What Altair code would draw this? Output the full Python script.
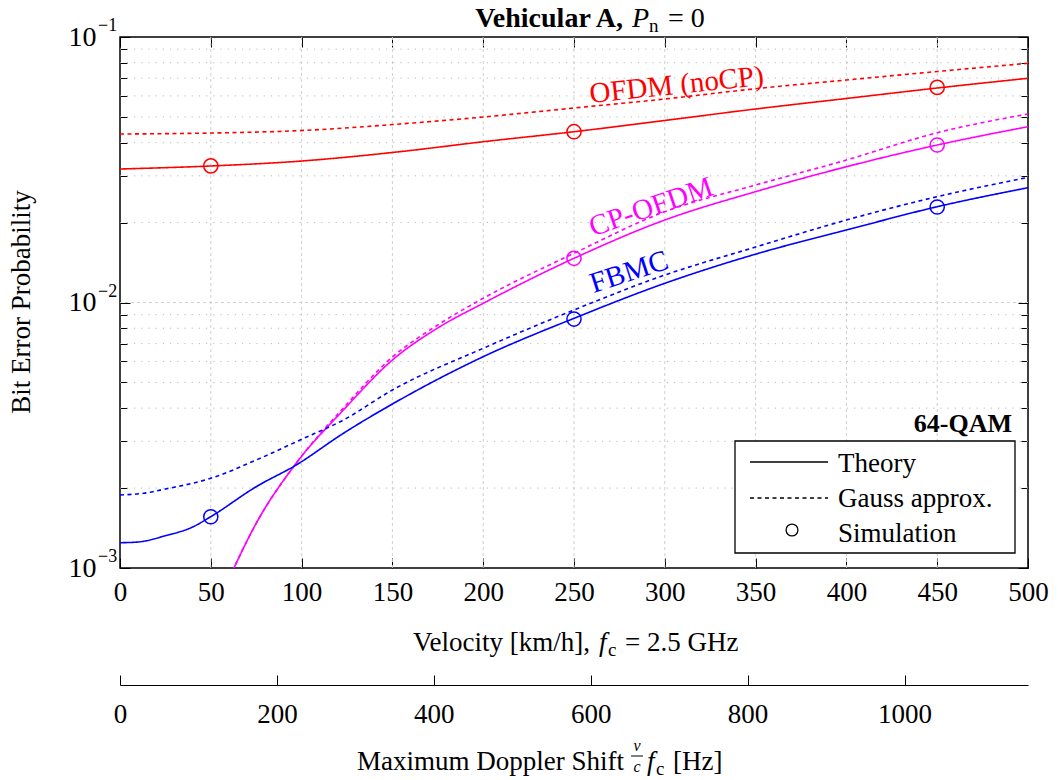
import altair as alt
import pandas as pd

FONT = "Liberation Serif"

# ---------------- data ----------------
series_names = ["OFDM (noCP)", "CP-OFDM", "FBMC"]
series_colors = ["#ff0000", "#ff00ff", "#0000ff"]

ofdm_v = [0, 50, 100, 154, 200, 250, 300, 350, 400, 450, 500]
ofdm_theory = [0.03183, 0.03267, 0.03411, 0.03698, 0.04032, 0.04398, 0.04848, 0.05356, 0.05867, 0.06425, 0.06991]
ofdm_gauss = [0.04311, 0.04348, 0.04444, 0.04702, 0.04995, 0.05402, 0.05841, 0.06386, 0.06887, 0.07413, 0.07963]

cp_v = [60, 75, 97, 123, 150, 175, 200, 250, 300, 350, 400, 450, 500]
cp_theory = [9.12e-4, 1.474e-3, 2.480e-3, 3.936e-3, 6.072e-3, 8.02e-3, 9.93e-3, 0.01467, 0.02045, 0.02615, 0.03247, 0.03919, 0.04594]
cp_gauss = [9.12e-4, 1.474e-3, 2.480e-3, 4.005e-3, 6.232e-3, 8.23e-3, 0.01037, 0.01532, 0.02198, 0.02771, 0.03441, 0.04359, 0.05129]

fbmc_v = [0, 10, 25, 40, 50, 75, 97, 123, 150, 200, 250, 300, 350, 400, 450, 500]
fbmc_theory = [1.245e-3, 1.253e-3, 1.323e-3, 1.427e-3, 1.561e-3, 2.024e-3, 2.443e-3, 3.216e-3, 4.146e-3,
               6.250e-3, 8.718e-3, 0.01181, 0.01521, 0.01875, 0.02295, 0.02706]
fbmc_gauss_v = [0, 13, 25, 50, 75, 100, 123, 150, 200, 250, 300, 350, 400, 450, 500]
fbmc_gauss = [1.884e-3, 1.912e-3, 1.984e-3, 2.177e-3, 2.551e-3, 3.053e-3, 3.609e-3, 4.682e-3,
              6.723e-3, 9.37e-3, 0.01269, 0.01618, 0.02045, 0.02504, 0.02961]

sim_ofdm_v = [50, 250, 450]
sim_ofdm = [0.0327, 0.0440, 0.0646]
sim_cp_v = [250, 450]
sim_cp = [0.01467, 0.0392]
sim_fbmc_v = [50, 250, 450]
sim_fbmc = [0.00156, 0.00866, 0.0229]

x_ticks = [0, 50, 100, 150, 200, 250, 300, 350, 400, 450, 500]
x_grid = [50, 100, 150, 200, 250, 300, 350, 400, 450]
y_major = [1e-3, 1e-2, 1e-1]
y_exp = ["\u22123", "\u22122", "\u22121"]
y_minor = [2e-3, 3e-3, 4e-3, 5e-3, 6e-3, 7e-3, 8e-3, 9e-3,
           2e-2, 3e-2, 4e-2, 5e-2, 6e-2, 7e-2, 8e-2, 9e-2]
y_grid_major = [1e-2]
hz_ticks = [0, 200, 400, 600, 800, 1000]
KMH_PER_HZ = 0.432  # 1 Hz Doppler at 2.5 GHz = 0.12 m/s = 0.432 km/h
hz_tick_pos = [h * KMH_PER_HZ for h in hz_ticks]

label_text = ["OFDM (noCP)", "CP-OFDM", "FBMC"]
label_v = [306.5, 292.4, 280.3]
label_ber = [0.0660, 0.02291, 0.01303]

legend_labels = ["Theory", "Gauss approx.", "Simulation"]

# ---------------- tables ----------------
rows = []
for name, xs, ys, style in [
    ("OFDM (noCP)", ofdm_v, ofdm_theory, "Theory"),
    ("OFDM (noCP)", ofdm_v, ofdm_gauss, "Gauss approx."),
    ("CP-OFDM", cp_v, cp_theory, "Theory"),
    ("CP-OFDM", cp_v, cp_gauss, "Gauss approx."),
    ("FBMC", fbmc_v, fbmc_theory, "Theory"),
    ("FBMC", fbmc_gauss_v, fbmc_gauss, "Gauss approx."),
]:
    for xv, yv in zip(xs, ys):
        rows.append({"series": name, "style": style, "v": xv, "ber": yv})
lines_df = pd.DataFrame(rows)

srows = []
for name, xs, ys in [("OFDM (noCP)", sim_ofdm_v, sim_ofdm), ("CP-OFDM", sim_cp_v, sim_cp), ("FBMC", sim_fbmc_v, sim_fbmc)]:
    for xv, yv in zip(xs, ys):
        srows.append({"series": name, "v": xv, "ber": yv})
sim_df = pd.DataFrame(srows)

one = pd.DataFrame({"a": [0]})

xscale = alt.Scale(domain=[0, 500], nice=False, zero=False)
yscale = alt.Scale(type="log", domain=[1e-3, 1e-1], nice=False)
cscale = alt.Scale(domain=series_names, range=series_colors)
dscale = alt.Scale(domain=["Theory", "Gauss approx."], range=[[1, 0], [4, 3.5]])

lab = dict(labelFont=FONT, labelFontSize=27, labelColor="black", tickColor="black",
           grid=False, title=None, labelFlush=False, labelOverlap=False)

ax_x_main = alt.Axis(orient="bottom", offset=-10, tickSize=10, domain=False, values=x_ticks,
                     labelPadding=11, **lab)
ax_x_top = alt.Axis(orient="top", offset=-10, tickSize=10, domain=False, labels=False,
                    values=x_ticks, tickColor="black", grid=False, title=None)
ax_x_hz = alt.Axis(orient="bottom", offset=107, tickSize=10, domain=False, values=hz_tick_pos,
                   labelExpr="format(round(datum.value / 0.432), 'd')", labelPadding=16, **lab)
ax_x_hzline = alt.Axis(orient="bottom", offset=117, ticks=False, labels=False, domain=True,
                       domainColor="black", domainWidth=1.2, grid=False, title=None)

ax_y_main = alt.Axis(orient="left", offset=-10, tickSize=10, domain=False, values=y_major,
                     labelExpr="'10'", labelPadding=24, **{**lab, "labelFontSize": 28})
ax_y_minor_l = alt.Axis(orient="left", offset=-7, tickSize=7, domain=False, labels=False,
                        values=y_minor, tickColor="black", grid=False, title=None)
ax_y_major_r = alt.Axis(orient="right", offset=-10, tickSize=10, domain=False, labels=False,
                        values=y_major, tickColor="black", grid=False, title=None)
ax_y_minor_r = alt.Axis(orient="right", offset=-7, tickSize=7, domain=False, labels=False,
                        values=y_minor, tickColor="black", grid=False, title=None)

# ---------------- grid ----------------
vgrid = alt.Chart(pd.DataFrame({"v": x_grid})).mark_rule(color="#cfcfcf", strokeDash=[3, 3], strokeWidth=1).encode(
    x=alt.X("v:Q", scale=xscale, axis=None))
hgrid_minor = alt.Chart(pd.DataFrame({"ber": y_minor})).mark_rule(color="#b8b8b8", strokeDash=[1.2, 6], strokeWidth=1).encode(
    y=alt.Y("ber:Q", scale=yscale, axis=None))
hgrid_major = alt.Chart(pd.DataFrame({"ber": y_grid_major})).mark_rule(color="#cfcfcf", strokeDash=[3, 3], strokeWidth=1).encode(
    y=alt.Y("ber:Q", scale=yscale, axis=None))

# ---------------- data marks ----------------
lines = alt.Chart(lines_df).mark_line(strokeWidth=1.6, clip=True, interpolate="monotone").encode(
    x=alt.X("v:Q", scale=xscale, axis=ax_x_main),
    y=alt.Y("ber:Q", scale=yscale, axis=ax_y_main),
    color=alt.Color("series:N", scale=cscale, legend=None),
    strokeDash=alt.StrokeDash("style:N", scale=dscale, legend=None),
)

points = alt.Chart(sim_df).mark_point(filled=False, size=200, strokeWidth=1.5, opacity=1, clip=True).encode(
    x=alt.X("v:Q", scale=xscale, axis=ax_x_top),
    y=alt.Y("ber:Q", scale=yscale, axis=ax_y_minor_l),
    color=alt.Color("series:N", scale=cscale, legend=None),
)

carrier1 = alt.Chart(sim_df).mark_point(opacity=0).encode(
    x=alt.X("v:Q", scale=xscale, axis=ax_x_hz),
    y=alt.Y("ber:Q", scale=yscale, axis=ax_y_major_r),
)
carrier2 = alt.Chart(sim_df).mark_point(opacity=0).encode(
    x=alt.X("v:Q", scale=xscale, axis=ax_x_hzline),
    y=alt.Y("ber:Q", scale=yscale, axis=ax_y_minor_r),
)

# exponents of the y tick labels
exps = alt.Chart(pd.DataFrame({"ber": y_major, "e": y_exp})).mark_text(
    font=FONT, fontSize=18, align="left", baseline="middle", dy=-11, color="black").encode(
    x=alt.value(-22), y=alt.Y("ber:Q", scale=yscale, axis=None), text="e:N")

# series labels
angles = [354, 341, 342]
series_labels = []
for t, xv, yv, col, ang in zip(label_text, label_v, label_ber, series_colors, angles):
    series_labels.append(
        alt.Chart(pd.DataFrame({"v": [xv], "ber": [yv]})).mark_text(
            text=t, font=FONT, fontSize=29, color=col, angle=ang, align="center", baseline="middle").encode(
            x=alt.X("v:Q", scale=xscale, axis=None), y=alt.Y("ber:Q", scale=yscale, axis=None)))


def txt(s, x, y, size=27, align="left", weight="normal", style="normal", baseline="alphabetic"):
    return alt.Chart(one).mark_text(text=s, font=FONT, fontSize=size, align=align, baseline=baseline,
                                    fontWeight=weight, fontStyle=style, color="black").encode(
        x=alt.value(x), y=alt.value(y))


texts = [
    # title
    txt("Vehicular A,", 503, -10, size=28, align="right", weight="bold"),
    txt("P", 512, -10, size=28, style="italic"),
    txt("n", 529, -5, size=19),
    txt("= 0", 548, -10, size=28),
    # y title
    alt.Chart(one).mark_text(text="Bit Error Probability", font=FONT, fontSize=27, angle=270,
                             align="center", baseline="middle", color="black").encode(
        x=alt.value(-98), y=alt.value(265)),
    # velocity axis title
    txt("Velocity [km/h],", 470, 614, align="right"),
    txt("f", 479, 614, style="italic"),
    txt("c", 488, 619, size=19),
    txt("= 2.5 GHz", 505, 614),
    # doppler axis title
    txt("Maximum Doppler Shift", 504, 733, align="right"),
    txt("v", 517, 714, size=16, style="italic", align="center"),
    txt("c", 517, 735, size=16, style="italic", align="center"),
    txt("f", 527, 733, style="italic"),
    txt("c", 536, 738, size=19),
    txt("[Hz]", 553, 733),
]
frac_bar = alt.Chart(one).mark_rule(color="black", strokeWidth=1).encode(
    x=alt.value(511), x2=alt.value(523), y=alt.value(719))

# legend
leg_box = alt.Chart(one).mark_rect(fill="white", stroke="black", strokeWidth=1.3).encode(
    x=alt.value(615), x2=alt.value(895), y=alt.value(404), y2=alt.value(516))
leg_l1 = alt.Chart(one).mark_rule(color="black", strokeWidth=1.3).encode(
    x=alt.value(630), x2=alt.value(708), y=alt.value(425))
leg_l2 = alt.Chart(one).mark_rule(color="black", strokeWidth=1.3, strokeDash=[4, 3.5]).encode(
    x=alt.value(630), x2=alt.value(708), y=alt.value(461))
leg_pt = alt.Chart(one).mark_point(filled=False, size=140, strokeWidth=1.3, color="black", opacity=1).encode(
    x=alt.value(672), y=alt.value(493))
leg_texts = [txt(legend_labels[0], 718, 435), txt(legend_labels[1], 718, 470), txt(legend_labels[2], 718, 505)]
qam = txt("64-QAM", 892, 395, size=26, align="right", weight="bold")

chart = alt.layer(
    vgrid, hgrid_minor, hgrid_major, lines, points, carrier1, carrier2, exps,
    *series_labels, *texts, frac_bar, leg_box, leg_l1, leg_l2, leg_pt, *leg_texts, qam,
).resolve_axis(x="independent", y="independent").properties(
    width=908, height=531,
    autosize=alt.AutoSizeParams(type="none"),
    padding={"left": 120, "top": 37, "right": 30, "bottom": 212},
    background="white",
).configure_view(stroke="black", strokeWidth=1.5)

chart.save("out.html", embed_options={"renderer": "svg", "actions": False})
